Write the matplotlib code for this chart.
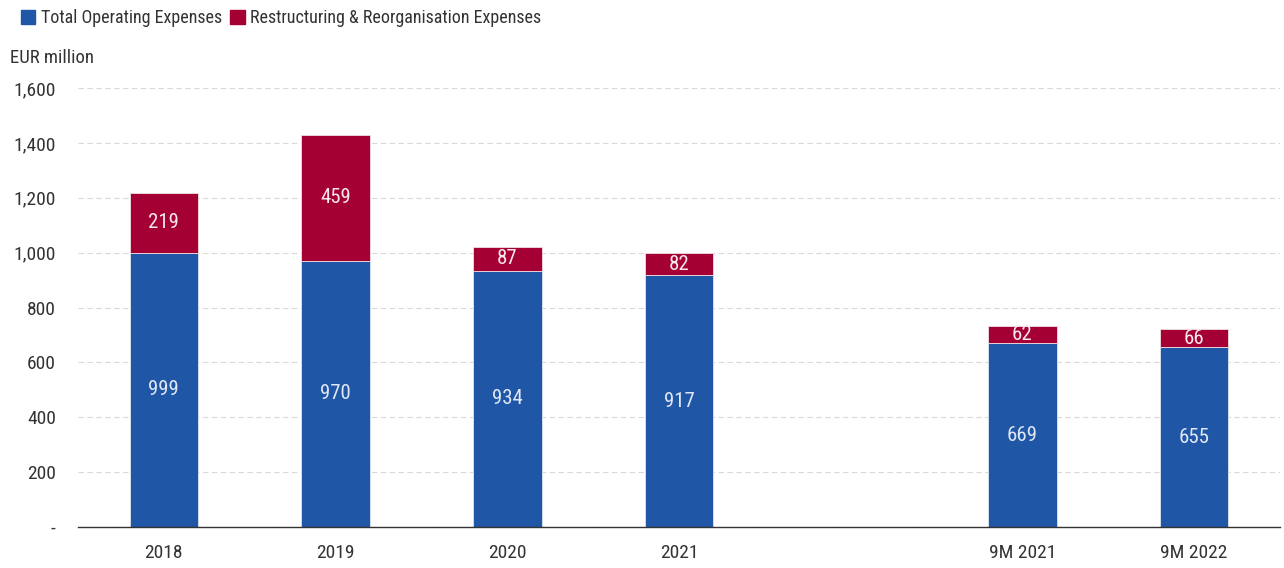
import matplotlib
matplotlib.use("Agg")
import matplotlib.pyplot as plt
from matplotlib.patches import Patch
from matplotlib.ticker import FixedLocator
from matplotlib import font_manager as fm

names = {f.name: f for f in fm.fontManager.ttflist}
choice = None
for pref in ["Liberation Sans Narrow", "Roboto Condensed", "DejaVu Sans Condensed", "Open Sans Condensed"]:
    if pref in names:
        choice = pref
        break
stretch = "normal"
if choice is None:
    for f in fm.fontManager.ttflist:
        if "condensed" in f.fname.lower() and "dejavusans" in f.fname.lower().replace("-", ""):
            choice = f.name
            stretch = "condensed"
            break
if choice is None:
    choice = "Roboto"
    fs = 12
else:
    fs = 14

plt.rcParams['font.family'] = [choice, 'DejaVu Sans']
plt.rcParams['font.stretch'] = stretch

categories = ["2018", "2019", "2020", "2021", "", "9M 2021", "9M 2022"]
opex = [999, 970, 934, 917, None, 669, 655]
restructuring = [219, 459, 87, 82, None, 62, 66]
yticks = [0, 200, 400, 600, 800, 1000, 1200, 1400, 1600]
ytick_labels = ["-", "200", "400", "600", "800", "1,000", "1,200", "1,400", "1,600"]

blue = "#2056a6"
red = "#a50034"

fig = plt.figure(figsize=(12.84, 5.68), dpi=100)
ax = fig.add_axes([78/1284, 1-527/568, (1280-78)/1284, (527-88)/568])

xs = [i for i, v in enumerate(opex) if v is not None]
o = [opex[i] for i in xs]
r = [restructuring[i] for i in xs]
ax.bar(xs, o, width=0.4, color=blue, edgecolor="#dfe6f0", linewidth=0.6, zorder=3)
ax.bar(xs, r, bottom=o, width=0.4, color=red, edgecolor="#f0dfe4", linewidth=0.6, zorder=3)

for x, v in zip(xs, o):
    ax.text(x, v/2, f"{v}", ha="center", va="center", color="#e0e8f5", fontsize=fs+1, zorder=4)
for x, v, base in zip(xs, r, o):
    ax.text(x, base + v/2, f"{v}", ha="center", va="center", color="#f7e8ec", fontsize=fs+1, zorder=4)

ax.set_xlim(-0.5, len(categories) - 0.5)
ax.set_ylim(0, 1600)
ax.set_xticks(range(len(categories)))
ax.set_xticklabels(categories, fontsize=fs, color="#333333")
ax.yaxis.set_major_locator(FixedLocator(yticks))
ax.set_yticklabels(ytick_labels, fontsize=fs, color="#333333")
ax.tick_params(axis="both", length=0)
ax.tick_params(axis="y", pad=16)
ax.tick_params(axis="x", pad=12)
ax.grid(axis="y", color="#d9d9d9", linestyle=(0, (5, 3)), linewidth=0.8, zorder=0)
for s in ["top", "right", "left"]:
    ax.spines[s].set_visible(False)
ax.spines["bottom"].set_color("#333333")
ax.spines["bottom"].set_linewidth(1.0)
ax.spines["bottom"].set_zorder(5)

fig.text(10/1284, 1-58/568, "EUR million", fontsize=fs-0.5, color="#333333", va="center", ha="left")

handles = [Patch(color=blue, label="Total Operating Expenses"),
           Patch(color=red, label="Restructuring & Reorganisation Expenses")]
fig.legend(handles=handles, loc="center left", bbox_to_anchor=(21/1284, 1-18/568),
           ncol=2, frameon=False, fontsize=fs-1, handlelength=0.8, handleheight=0.8,
           handletextpad=0.3, columnspacing=0.45, borderaxespad=0, borderpad=0,
           labelcolor="#333333")

fig.savefig("out.png", dpi=100)
